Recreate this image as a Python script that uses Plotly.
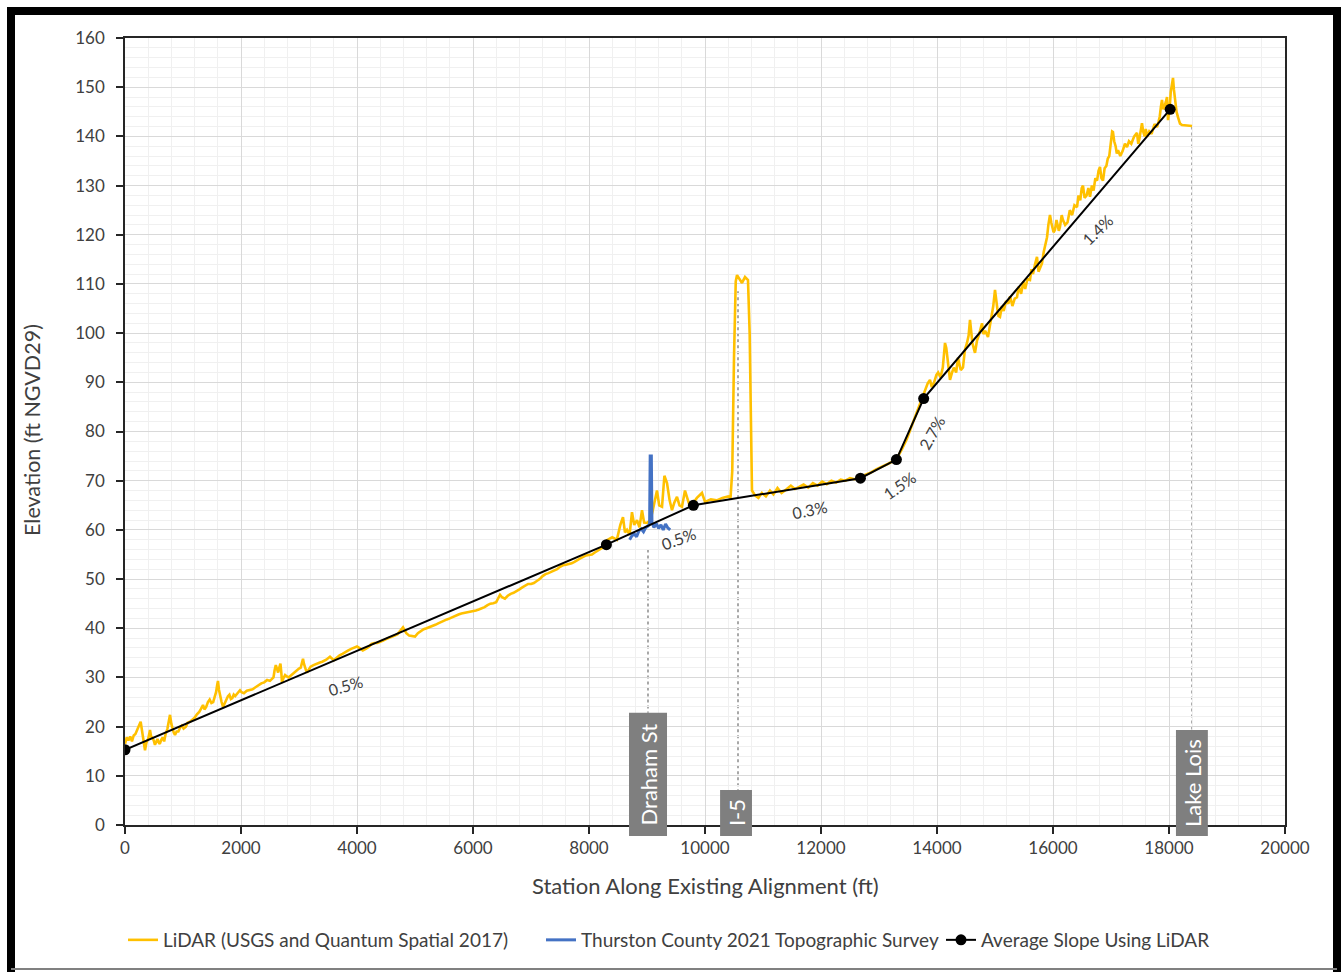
import plotly.graph_objects as go

# ---------------- data ----------------
# LiDAR profile (station ft, elevation ft)
lidar_station = [
    0, 30, 60, 90, 120, 150, 180, 210, 240, 270,
    300, 320, 345, 370, 400, 431, 450, 470, 495, 517,
    540, 560, 580, 600, 625, 650, 675, 700, 730, 750,
    776, 800, 820, 840, 862, 890, 920, 950, 980, 1010,
    1050, 1080, 1120, 1160, 1200, 1240, 1280, 1310, 1345, 1370,
    1400, 1430, 1460, 1490, 1520, 1545, 1570, 1590, 1603, 1620,
    1640, 1665, 1690, 1720, 1750, 1775, 1800, 1825, 1850, 1875,
    1900, 1940, 1983, 2010, 2050, 2100, 2150, 2200, 2250, 2300,
    2350, 2400, 2450, 2500, 2560, 2580, 2600, 2620, 2640, 2660,
    2680, 2695, 2707, 2730, 2760, 2790, 2820, 2860, 2900, 2930,
    2960, 3000, 3030, 3050, 3069, 3085, 3100, 3120, 3138, 3170,
    3200, 3250, 3300, 3350, 3400, 3470, 3534, 3570, 3600, 3650,
    3700, 3750, 3800, 3850, 3900, 3950, 4000, 4050, 4100, 4150,
    4200, 4250, 4300, 4350, 4400, 4450, 4500, 4550, 4600, 4650,
    4700, 4750, 4793, 4820, 4850, 4900, 4950, 5000, 5050, 5100,
    5150, 5200, 5250, 5300, 5350, 5400, 5450, 5500, 5550, 5600,
    5650, 5700, 5750, 5800, 5850, 5900, 5950, 6000, 6050, 6100,
    6150, 6200, 6250, 6300, 6350, 6400, 6430, 6466, 6500, 6550,
    6600, 6650, 6700, 6750, 6800, 6850, 6900, 6950, 7000, 7050,
    7100, 7150, 7200, 7250, 7300, 7350, 7400, 7450, 7500, 7550,
    7600, 7650, 7700, 7750, 7800, 7850, 7900, 7950, 8000, 8050,
    8100, 8150, 8200, 8250, 8310,
    8400, 8480, 8540, 8586, 8620, 8655, 8700, 8741, 8780, 8828,
    8870, 8914, 8950, 9000, 9060, 9100, 9140, 9172, 9210, 9259,
    9300, 9345, 9390, 9431, 9470, 9517, 9560, 9603, 9655, 9700,
    9741, 9800, 9860, 9948, 10000, 10100, 10200, 10300, 10400, 10440,
    10470, 10500, 10530, 10552, 10600, 10638, 10690, 10741, 10770, 10790,
    10810, 10862, 10920, 10980, 11050, 11120, 11180, 11250, 11320, 11400,
    11480, 11550, 11620, 11700, 11780, 11860, 11940, 12020, 12100, 12180,
    12260, 12340, 12420, 12500, 12580, 12680, 12760, 12850, 12950, 13050,
    13150, 13250, 13320, 13400, 13480, 13560, 13640, 13720,
    13800, 13840, 13879, 13910, 13950, 13990, 14020, 14060, 14100, 14120,
    14138, 14160, 14190, 14224, 14260, 14290, 14330, 14362, 14390, 14410,
    14448, 14480, 14517, 14545, 14569, 14590, 14610, 14655, 14690, 14720,
    14750, 14776, 14800, 14830, 14879, 14910, 14940, 14970, 15000, 15020,
    15040, 15060, 15086, 15120, 15150, 15190, 15230, 15260, 15300, 15340,
    15379, 15410, 15450, 15490, 15520, 15560, 15603, 15630, 15655, 15690,
    15724, 15750, 15770, 15810, 15840, 15860, 15897, 15920, 15948, 15970,
    15990, 16010, 16034, 16060, 16080, 16100, 16120, 16150, 16172, 16210,
    16250, 16290, 16330, 16370, 16414, 16440, 16470, 16495, 16517, 16545,
    16580, 16610, 16638, 16670, 16700, 16730, 16760, 16785, 16810, 16835,
    16862, 16890, 16920, 16945, 16970, 17000, 17020, 17034, 17055, 17080,
    17100, 17121, 17160, 17200, 17240, 17276, 17310, 17350, 17400, 17448,
    17470, 17490, 17515, 17534, 17555, 17580, 17600, 17621, 17660, 17700,
    17750, 17793, 17820, 17840, 17860, 17879, 17900, 17920, 17945, 17966,
    17983, 18010, 18030, 18050, 18069, 18085, 18103, 18130, 18155, 18190,
    18224, 18300, 18397,
]
lidar_elev = [
    16.5, 17.8, 17.2, 18.0, 17.0, 18.2, 18.5, 19.5, 20.2, 21.0,
    19.0, 17.0, 15.2, 16.8, 17.5, 19.3, 18.0, 17.8, 17.2, 16.3,
    17.0, 17.5, 16.8, 16.5, 17.3, 17.8, 17.0, 18.5, 19.5, 21.0,
    22.4, 20.5, 19.5, 18.8, 18.3, 19.0, 19.0, 19.8, 20.2, 19.6,
    20.0, 20.8, 21.0, 21.4, 21.8, 22.5, 23.0, 23.6, 24.4, 23.5,
    24.0, 25.0, 25.5, 24.8, 25.0, 26.0, 27.0, 28.5, 29.3, 27.5,
    26.0, 25.0, 24.0, 24.8, 25.5, 26.2, 26.5, 25.6, 25.8, 26.5,
    26.2, 26.8, 27.4, 27.0, 26.8, 27.3, 27.5, 27.6, 28.0, 28.5,
    28.8, 29.0, 29.5, 29.3, 30.0, 31.5, 32.5, 31.8, 31.0, 32.0,
    32.8, 31.0, 29.0, 29.8, 30.5, 30.2, 30.0, 30.4, 30.8, 31.2,
    31.5, 31.8, 32.0, 33.0, 33.8, 32.8, 32.0, 31.5, 31.0, 31.8,
    32.2, 32.5, 32.8, 33.0, 33.2, 33.6, 34.2, 33.8, 33.5, 34.0,
    34.5, 34.8, 35.2, 35.5, 35.8, 36.0, 36.3, 35.9, 35.5, 35.8,
    36.2, 36.8, 37.0, 37.0, 37.2, 37.5, 37.8, 38.0, 38.2, 38.5,
    38.8, 39.5, 40.2, 39.6, 39.0, 38.5, 38.4, 38.3, 39.0, 39.5,
    39.8, 40.0, 40.2, 40.4, 40.7, 41.0, 41.3, 41.5, 41.8, 42.0,
    42.3, 42.6, 42.8, 43.0, 43.1, 43.2, 43.4, 43.5, 43.6, 43.8,
    44.0, 44.3, 44.7, 45.0, 45.1, 45.3, 46.0, 46.8, 46.3, 46.0,
    46.6, 47.0, 47.2, 47.5, 47.9, 48.3, 48.7, 49.0, 49.0, 49.2,
    49.6, 50.0, 50.6, 51.0, 51.2, 51.5, 51.8, 52.0, 52.5, 52.8,
    52.9, 53.0, 53.2, 53.5, 53.9, 54.2, 54.5, 54.8, 54.9, 55.0,
    55.4, 55.8, 56.2, 56.5, 57.9,
    58.5, 58.0, 61.0, 62.6, 59.5, 60.0, 59.0, 63.6, 61.0, 62.0,
    60.5, 64.0, 61.5, 61.4, 62.0, 64.0, 66.0, 68.0, 65.0, 64.7,
    71.0, 69.5, 66.0, 64.0, 65.5, 66.7, 65.0, 64.7, 68.0, 66.0,
    64.7, 65.5, 66.5, 67.5, 65.7, 66.2, 66.0, 66.5, 66.8, 66.5,
    72.0, 95.0, 110.5, 111.8, 111.0, 110.2, 111.4, 110.8, 100.0, 80.0,
    68.0, 67.0, 66.5, 67.5, 66.8, 68.0, 67.2, 68.5, 67.5, 68.2,
    69.0, 68.3, 68.8, 69.2, 68.6, 69.5, 69.0, 69.8, 69.3, 70.0,
    69.6, 70.2, 70.0, 70.5, 70.3, 70.8, 71.2, 71.6, 72.3, 72.8,
    73.4, 74.0, 74.8, 76.5, 78.5, 81.0, 83.5, 86.0,
    88.5, 89.8, 90.5, 89.0, 90.0, 91.5, 92.0, 91.0, 93.0, 96.5,
    98.0, 97.0, 93.9, 90.5, 92.0, 93.0, 92.0, 95.0, 93.5, 92.5,
    93.0, 96.5, 98.0, 99.5, 102.7, 100.0, 98.0, 96.0, 98.5, 99.5,
    101.0, 102.0, 99.8, 100.5, 99.2, 101.5, 103.0, 105.5, 108.8, 106.0,
    105.0, 103.5, 103.3, 105.5, 104.5, 106.5, 106.0, 107.5, 105.5, 107.0,
    107.3, 109.5, 108.0, 110.5, 109.0, 111.0, 110.8, 113.0, 112.0, 114.0,
    115.5, 112.5, 113.0, 114.2, 116.5, 117.5, 119.5, 122.0, 124.0, 122.5,
    121.5, 120.5, 121.0, 123.0, 122.0, 120.8, 121.6, 124.0, 123.0, 122.0,
    122.5, 125.0, 124.0, 126.0, 125.6, 128.0, 127.0, 129.5, 130.0, 127.5,
    128.0, 129.5, 127.7, 130.0, 129.0, 131.5, 131.0, 133.0, 133.8, 131.5,
    131.0, 133.5, 134.0, 135.5, 136.0, 138.5, 141.0, 140.9, 139.0, 138.0,
    136.5, 137.2, 136.0, 137.0, 138.5, 137.8, 139.0, 138.5, 140.0, 140.7,
    138.5, 139.5, 141.5, 142.7, 141.0, 140.0, 141.5, 139.9, 141.0, 140.5,
    142.5, 141.9, 143.0, 144.0, 146.0, 147.4, 145.5, 146.0, 147.0, 148.0,
    143.3, 145.5, 149.0, 150.5, 151.9, 149.5, 147.4, 145.0, 143.9, 142.6,
    142.3, 142.2, 142.1,
]

survey_station = [8700, 8740, 8780, 8820, 8860, 8900, 8940, 8980, 9020, 9045, 9055, 9075, 9085,
                  9120, 9160, 9200, 9240, 9280, 9320, 9360, 9400]
survey_elev = [58.0, 58.8, 59.2, 58.6, 59.8, 60.2, 59.6, 60.5, 60.8, 61.2, 75.0, 75.0, 61.5,
               60.5, 61.3, 60.3, 61.0, 60.0, 61.2, 60.4, 60.0]

slope_station = [0, 8300, 9800, 12680, 13300, 13770, 18020]
slope_elev = [15.3, 57.0, 65.0, 70.5, 74.3, 86.7, 145.5]

slope_labels = ["0.5%", "0.5%", "0.3%", "1.5%", "2.7%", "1.4%"]
slope_label_x = [3800, 9550, 11810, 13350, 13910, 16770]
slope_label_y = [28.3, 58.2, 64.2, 69.0, 79.8, 121.0]
slope_label_angle = [-16, -20, -12, -35, -61, -44]

places = ["Draham St", "I-5", "Lake Lois"]
place_station = [9017, 10569, 18397]
place_top_elev = [56.0, 108.5, 142.0]
place_box_top = [22.8, 7.1, 19.3]
place_box_x0 = [8690, 10260, 18120]
place_box_x1 = [9345, 10810, 18670]

series_names = ["LiDAR (USGS and Quantum Spatial 2017)",
                "Thurston County 2021 Topographic Survey",
                "Average Slope Using LiDAR"]

x_range = [0, 20000]
y_range = [0, 160]

# ---------------- layout helpers ----------------
W, H = 1344, 972
ML, MR, MT, MB = 125, 59, 38, 147
PW, PH = W - ML - MR, H - MT - MB


def px2paper_x(px):
    return (px - ML) / PW


def py2paper_y(py):
    return (H - MB - py) / PH


def data2paper_y(v):
    return (v - y_range[0]) / (y_range[1] - y_range[0])


FONT = "Lato"
TXT = "#404040"

fig = go.Figure()

fig.add_trace(go.Scatter(
    x=lidar_station, y=lidar_elev, mode="lines", name=series_names[0], legend="legend",
    line=dict(color="#FFC000", width=2.6),
))
fig.add_trace(go.Scatter(
    x=survey_station, y=survey_elev, mode="lines", name=series_names[1], legend="legend2",
    line=dict(color="#4472C4", width=3),
))
fig.add_trace(go.Scatter(
    x=slope_station, y=slope_elev, mode="lines+markers", name=series_names[2], legend="legend3",
    line=dict(color="#000000", width=2),
    marker=dict(color="#000000", size=11),
))

shapes = []
annotations = []

# dotted leader lines
for st, top, bt in zip(place_station, place_top_elev, place_box_top):
    shapes.append(dict(type="line", xref="x", yref="y", x0=st, x1=st, y0=top, y1=bt,
                       line=dict(color="#8C8C8C", width=1.5, dash="dot"), layer="below"))

# place boxes
box_bottom_paper = py2paper_y(836)
for name, x0, x1, bt in zip(places, place_box_x0, place_box_x1, place_box_top):
    shapes.append(dict(type="rect", xref="x", yref="paper", x0=x0, x1=x1,
                       y0=box_bottom_paper, y1=data2paper_y(bt),
                       fillcolor="#7F7F7F", line=dict(width=0), layer="above"))
    annotations.append(dict(x=(x0 + x1) / 2, y=(box_bottom_paper + data2paper_y(bt)) / 2,
                            xref="x", yref="paper", text=name, showarrow=False,
                            textangle=-90, font=dict(family=FONT, size=22, color="#FFFFFF"),
                            xanchor="center", yanchor="middle"))

# slope labels
for t, x, y, a in zip(slope_labels, slope_label_x, slope_label_y, slope_label_angle):
    annotations.append(dict(x=x, y=y, xref="x", yref="y", text=t, showarrow=False,
                            textangle=a, xanchor="center", yanchor="middle",
                            font=dict(family=FONT, size=16, color=TXT)))

# axis titles
annotations.append(dict(x=px2paper_x(32), y=py2paper_y(430), xref="paper", yref="paper",
                        text="Elevation (ft NGVD29)", showarrow=False, textangle=-90,
                        xanchor="center", yanchor="middle",
                        font=dict(family=FONT, size=21.5, color=TXT)))
annotations.append(dict(x=0.5, y=py2paper_y(885), xref="paper", yref="paper",
                        text="Station Along Existing Alignment (ft)", showarrow=False,
                        xanchor="center", yanchor="middle",
                        font=dict(family=FONT, size=22, color=TXT)))

# outer frame
fx0, fx1 = px2paper_x(11), px2paper_x(1337)
fy0, fy1 = py2paper_y(969), py2paper_y(11)
for s in [
    dict(x0=fx0, x1=fx0, y0=py2paper_y(972), y1=py2paper_y(7), w=8, c="#000000"),
    dict(x0=px2paper_x(7), x1=px2paper_x(1341), y0=fy1, y1=fy1, w=8, c="#000000"),
    dict(x0=fx1, x1=fx1, y0=py2paper_y(972), y1=py2paper_y(7), w=8, c="#000000"),
    dict(x0=fx0, x1=fx1, y0=fy0, y1=fy0, w=2, c="#808080"),
]:
    shapes.append(dict(type="line", xref="paper", yref="paper", x0=s["x0"], x1=s["x1"],
                       y0=s["y0"], y1=s["y1"], line=dict(color=s["c"], width=s["w"]), layer="above"))


def legend_at(px_left):
    return dict(orientation="h", x=px2paper_x(px_left), xanchor="left",
                y=py2paper_y(940), yanchor="middle",
                font=dict(family=FONT, size=19, color=TXT),
                itemwidth=30, bgcolor="rgba(0,0,0,0)", borderwidth=0)


fig.update_layout(
    width=W, height=H,
    margin=dict(l=ML, r=MR, t=MT, b=MB, pad=0, autoexpand=False),
    paper_bgcolor="#FFFFFF", plot_bgcolor="#FFFFFF",
    font=dict(family=FONT, color=TXT, size=17),
    showlegend=True,
    legend=legend_at(123),
    legend2=legend_at(541),
    legend3=legend_at(941),
    shapes=shapes,
    annotations=annotations,
)

fig.update_xaxes(
    range=x_range, dtick=2000, tick0=0, tickformat="d",
    showgrid=True, gridcolor="#D9D9D9", gridwidth=1,
    minor=dict(dtick=400, showgrid=True, gridcolor="#F0F0F0", gridwidth=1),
    showline=True, linecolor="#262626", linewidth=1.5, mirror=True,
    ticks="outside", ticklen=7, tickcolor="#262626", tickwidth=1.5,
    tickfont=dict(family=FONT, size=17, color=TXT), zeroline=False,
)
fig.update_yaxes(
    range=y_range, dtick=10, tick0=0, tickformat="d",
    showgrid=True, gridcolor="#D9D9D9", gridwidth=1,
    minor=dict(dtick=2, showgrid=True, gridcolor="#F0F0F0", gridwidth=1),
    showline=True, linecolor="#262626", linewidth=1.5, mirror=True,
    ticks="outside", ticklen=7, tickcolor="#262626", tickwidth=1.5, ticklabelstandoff=8,
    tickfont=dict(family=FONT, size=17, color=TXT), zeroline=False,
)

fig.write_html("out.html", config={"displayModeBar": False},
               post_script="document.body.style.margin='0px';document.body.style.overflow='hidden';")
